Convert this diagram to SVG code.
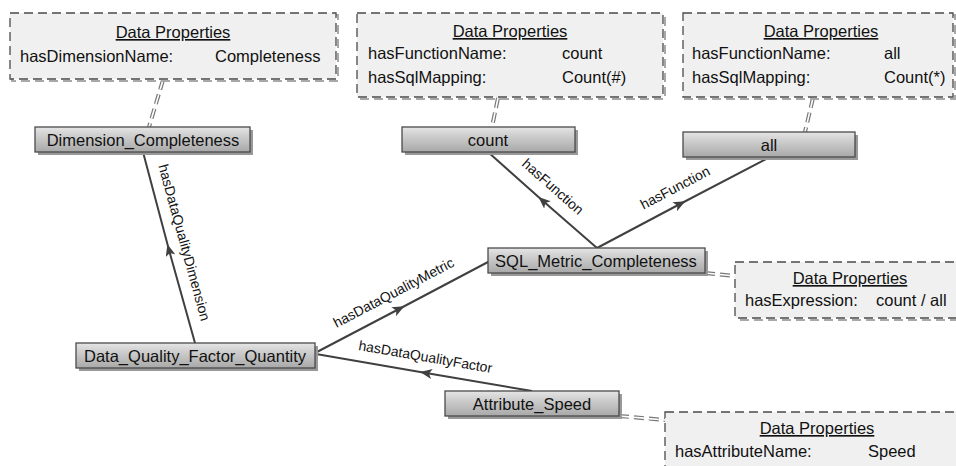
<svg xmlns="http://www.w3.org/2000/svg" width="956" height="466" viewBox="0 0 956 466">
<style>
  .node rect.body { fill: url(#ng); stroke: #4a4a4a; stroke-width: 1.3; }
  .node rect.shadow { fill: #999999; }
  .node text { font-family: "Liberation Sans", Arial, sans-serif; font-size: 16.5px; fill: #111; text-anchor: middle; }
  .dp rect.body { fill: #f0f0f0; stroke: #4a4a4a; stroke-width: 1.3; stroke-dasharray: 9 5; }
  .dp rect.shadow { fill: none; stroke: #a8a8a8; stroke-width: 2; stroke-dasharray: 9 5; }
  .dp text { font-family: "Liberation Sans", Arial, sans-serif; font-size: 16.5px; fill: #111; }
  .dp text.title { text-anchor: middle; text-decoration: underline; }
  .edge { fill: none; stroke: #404040; stroke-width: 2; }
  .link-o { fill: none; stroke: #777777; stroke-width: 4; stroke-dasharray: 10 5; }
  .link-i { fill: none; stroke: #ffffff; stroke-width: 1.6; stroke-dasharray: 10 5; }
  .lbl { font-family: "Liberation Sans", Arial, sans-serif; font-size: 14px; fill: #111; text-anchor: middle; }
</style>
<defs>
  <linearGradient id="ng" x1="0" y1="0" x2="0" y2="1">
    <stop offset="0" stop-color="#e6e6e6"/>
    <stop offset="0.25" stop-color="#d4d4d4"/>
    <stop offset="1" stop-color="#a8a8a8"/>
  </linearGradient>
  <marker id="arr" viewBox="0 0 12 10" refX="6" refY="5" markerWidth="12" markerHeight="10" markerUnits="userSpaceOnUse" orient="auto">
    <path d="M0,0 L12,5 L0,10 L3,5 Z" fill="#404040"/>
  </marker>
</defs>
<rect x="0" y="0" width="956" height="466" fill="#ffffff"/>

<!-- Connectors -->
<g id="connectors">
  <!-- dashed data-property links -->
  <line class="link-o" x1="163" y1="80" x2="149" y2="127"/>
  <line class="link-i" x1="163" y1="80" x2="149" y2="127"/>
  <line class="link-o" x1="498" y1="98" x2="492" y2="127"/>
  <line class="link-i" x1="498" y1="98" x2="492" y2="127"/>
  <line class="link-o" x1="813" y1="98" x2="805" y2="132"/>
  <line class="link-i" x1="813" y1="98" x2="805" y2="132"/>
  <line class="link-o" x1="705" y1="273" x2="735" y2="276"/>
  <line class="link-i" x1="705" y1="273" x2="735" y2="276"/>
  <line class="link-o" x1="619" y1="416" x2="665" y2="420"/>
  <line class="link-i" x1="619" y1="416" x2="665" y2="420"/>

  <!-- object properties -->
  <polyline class="edge" points="195,343 169,250 143,152" marker-mid="url(#arr)"/>
  <polyline class="edge" points="597,248 543,201 488,152" marker-mid="url(#arr)"/>
  <polyline class="edge" points="597,248 680,204 770,157" marker-mid="url(#arr)"/>
  <polyline class="edge" points="315,353 399,309 488,262" marker-mid="url(#arr)"/>
  <polyline class="edge" points="532,391 426,373 316,354" marker-mid="url(#arr)"/>

  <text class="lbl" transform="translate(184.5,242.5) rotate(74.6)" y="5">hasDataQualityDimension</text>
  <text class="lbl" transform="translate(553,186.5) rotate(41.4)" y="5">hasFunction</text>
  <text class="lbl" transform="translate(675,187.5) rotate(-27.7)" y="5">hasFunction</text>
  <text class="lbl" transform="translate(393.5,292.5) rotate(-27.7)" y="5">hasDataQualityMetric</text>
  <text class="lbl" transform="translate(425.5,356.5) rotate(9.8)" y="5">hasDataQualityFactor</text>
</g>

<!-- Data property boxes -->
<g id="dp-dimension" class="dp">
  <rect class="shadow" x="12" y="15" width="326" height="66"/>
  <rect class="body" x="10" y="13" width="326" height="66"/>
  <text class="title" x="173" y="38">Data Properties</text>
  <text x="20" y="62">hasDimensionName:</text>
  <text x="215" y="62">Completeness</text>
</g>
<g id="dp-count" class="dp">
  <rect class="shadow" x="359" y="15" width="306" height="84"/>
  <rect class="body" x="357" y="13" width="306" height="84"/>
  <text class="title" x="510" y="37">Data Properties</text>
  <text x="368" y="59">hasFunctionName:</text>
  <text x="562" y="59">count</text>
  <text x="368" y="83">hasSqlMapping:</text>
  <text x="562" y="83">Count(#)</text>
</g>
<g id="dp-all" class="dp">
  <rect class="shadow" x="685" y="15" width="270" height="84"/>
  <rect class="body" x="683" y="13" width="270" height="84"/>
  <text class="title" x="821" y="37">Data Properties</text>
  <text x="692" y="59">hasFunctionName:</text>
  <text x="884" y="59">all</text>
  <text x="692" y="83">hasSqlMapping:</text>
  <text x="884" y="83">Count(*)</text>
</g>
<g id="dp-expression" class="dp">
  <rect class="shadow" x="737" y="264" width="230" height="56"/>
  <rect class="body" x="735" y="262" width="230" height="56"/>
  <text class="title" x="850" y="284">Data Properties</text>
  <text x="745" y="306">hasExpression:</text>
  <text x="876" y="306">count / all</text>
</g>
<g id="dp-attribute" class="dp">
  <rect class="shadow" x="667" y="414" width="304" height="70"/>
  <rect class="body" x="665" y="412" width="304" height="70"/>
  <text class="title" x="817" y="434">Data Properties</text>
  <text x="675" y="457">hasAttributeName:</text>
  <text x="868" y="457">Speed</text>
</g>

<!-- Nodes -->
<g id="Dimension_Completeness" class="node">
  <rect class="shadow" x="38" y="130" width="215" height="25"/>
  <rect class="body" x="35" y="127" width="215" height="25"/>
  <text x="143" y="146">Dimension_Completeness</text>
</g>
<g id="count" class="node">
  <rect class="shadow" x="405" y="130" width="173" height="25"/>
  <rect class="body" x="402" y="127" width="173" height="25"/>
  <text x="488" y="146">count</text>
</g>
<g id="all" class="node">
  <rect class="shadow" x="686" y="135" width="172" height="25"/>
  <rect class="body" x="683" y="132" width="172" height="25"/>
  <text x="769" y="151">all</text>
</g>
<g id="SQL_Metric_Completeness" class="node">
  <rect class="shadow" x="491" y="251" width="217" height="25"/>
  <rect class="body" x="488" y="248" width="217" height="25"/>
  <text x="596" y="267">SQL_Metric_Completeness</text>
</g>
<g id="Data_Quality_Factor_Quantity" class="node">
  <rect class="shadow" x="79" y="346" width="239" height="25"/>
  <rect class="body" x="76" y="343" width="239" height="25"/>
  <text x="195" y="362">Data_Quality_Factor_Quantity</text>
</g>
<g id="Attribute_Speed" class="node">
  <rect class="shadow" x="448" y="394" width="174" height="25"/>
  <rect class="body" x="445" y="391" width="174" height="25"/>
  <text x="532" y="410">Attribute_Speed</text>
</g>
</svg>
